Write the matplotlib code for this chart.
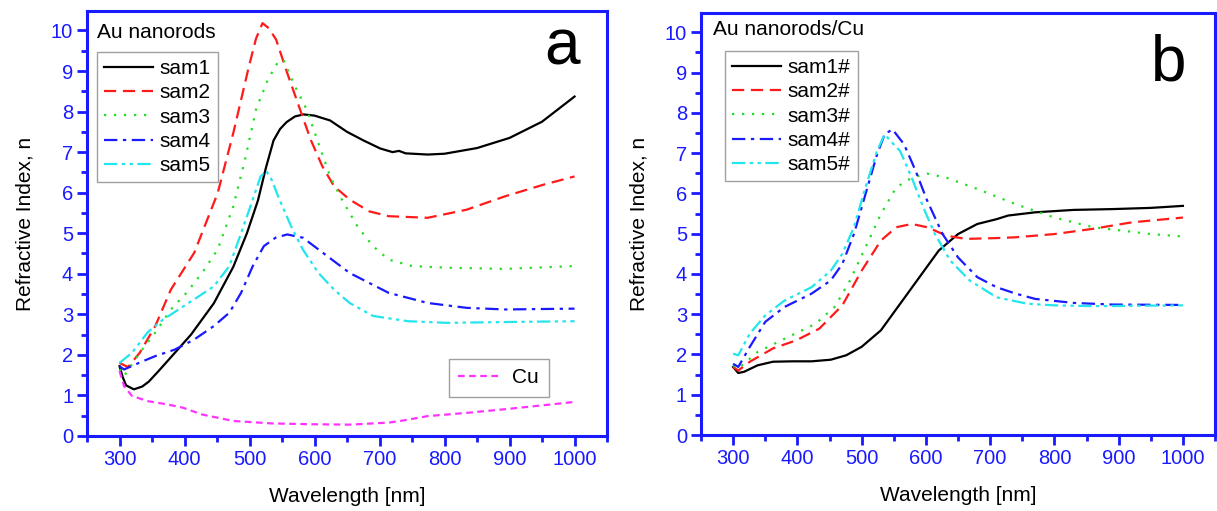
import matplotlib
matplotlib.use("Agg")
import matplotlib.pyplot as plt
from matplotlib.ticker import MultipleLocator

plt.rcParams['font.family'] = ['Liberation Sans', 'DejaVu Sans']

# ---------------- Panel a: Au nanorods ----------------
a_sam1_x = [300, 305, 310, 322, 335, 345, 360, 389, 410, 445, 475, 496, 513, 525, 537, 547, 557, 570, 583, 600, 624, 650, 675, 701, 720, 730, 740, 774, 800, 850, 900, 950, 1000]
a_sam1_y = [1.72, 1.45, 1.25, 1.15, 1.22, 1.34, 1.60, 2.12, 2.50, 3.27, 4.17, 5.00, 5.81, 6.60, 7.29, 7.57, 7.74, 7.88, 7.93, 7.90, 7.78, 7.50, 7.29, 7.09, 7.00, 7.03, 6.97, 6.94, 6.96, 7.10, 7.35, 7.75, 8.37]

a_sam2_x = [300, 313, 331, 355, 379, 415, 451, 475, 499, 510, 520, 530, 541, 558, 576, 594, 612, 630, 654, 684, 714, 774, 834, 893, 953, 1000]
a_sam2_y = [1.80, 1.70, 2.05, 2.71, 3.61, 4.52, 5.99, 7.47, 9.11, 9.80, 10.18, 10.05, 9.77, 8.95, 8.13, 7.31, 6.65, 6.16, 5.83, 5.54, 5.42, 5.38, 5.58, 5.91, 6.20, 6.40]

a_sam3_x = [300, 307, 331, 355, 379, 403, 427, 451, 475, 493, 510, 528, 543, 552, 570, 588, 606, 624, 642, 666, 690, 714, 750, 804, 893, 1000]
a_sam3_y = [1.65, 1.48, 2.05, 2.55, 3.12, 3.53, 4.02, 4.60, 5.66, 6.81, 8.05, 8.78, 9.20, 9.28, 8.62, 8.05, 7.22, 6.40, 5.83, 5.17, 4.68, 4.35, 4.19, 4.15, 4.12, 4.19]

a_sam4_x = [300, 307, 331, 355, 385, 415, 445, 469, 487, 505, 522, 540, 558, 582, 606, 654, 714, 774, 834, 893, 1000]
a_sam4_y = [1.72, 1.64, 1.81, 1.97, 2.13, 2.38, 2.71, 3.04, 3.53, 4.19, 4.68, 4.89, 4.97, 4.89, 4.60, 4.02, 3.53, 3.28, 3.16, 3.12, 3.14]

a_sam5_x = [300, 319, 343, 367, 391, 415, 445, 469, 487, 505, 517, 526, 534, 546, 564, 582, 606, 630, 654, 690, 744, 804, 893, 1000]
a_sam5_y = [1.80, 2.05, 2.55, 2.87, 3.12, 3.37, 3.69, 4.19, 5.00, 5.83, 6.40, 6.53, 6.32, 5.83, 5.17, 4.60, 4.02, 3.61, 3.28, 2.96, 2.83, 2.79, 2.81, 2.83]

a_cu_x = [300, 307, 319, 343, 373, 397, 427, 475, 534, 594, 654, 714, 732, 774, 834, 893, 953, 1000]
a_cu_y = [1.60, 1.23, 0.99, 0.86, 0.78, 0.70, 0.53, 0.37, 0.31, 0.29, 0.28, 0.33, 0.37, 0.49, 0.57, 0.66, 0.76, 0.84]

# ---------------- Panel b: Au nanorods/Cu ----------------
b_sam1_x = [300, 308, 317, 338, 362, 392, 422, 452, 476, 500, 530, 560, 590, 620, 650, 680, 710, 728, 770, 830, 890, 950, 1000]
b_sam1_y = [1.69, 1.54, 1.57, 1.73, 1.82, 1.83, 1.83, 1.87, 1.98, 2.19, 2.60, 3.26, 3.92, 4.58, 4.99, 5.24, 5.36, 5.45, 5.53, 5.59, 5.61, 5.64, 5.69]

b_sam2_x = [300, 308, 326, 362, 398, 434, 470, 500, 530, 554, 578, 602, 632, 662, 710, 740, 800, 860, 920, 1000]
b_sam2_y = [1.69, 1.60, 1.82, 2.15, 2.35, 2.64, 3.22, 4.08, 4.83, 5.16, 5.24, 5.16, 4.95, 4.87, 4.89, 4.91, 4.99, 5.12, 5.28, 5.40]

b_sam3_x = [300, 308, 338, 380, 428, 458, 482, 506, 530, 554, 578, 602, 632, 680, 740, 800, 860, 908, 950, 1000]
b_sam3_y = [1.73, 1.65, 2.06, 2.39, 2.76, 3.18, 3.84, 4.66, 5.49, 6.15, 6.39, 6.49, 6.39, 6.11, 5.73, 5.40, 5.16, 5.07, 4.99, 4.93]

b_sam4_x = [300, 308, 326, 350, 380, 422, 452, 470, 488, 506, 524, 536, 548, 566, 584, 602, 626, 650, 680, 710, 740, 770, 830, 890, 1000]
b_sam4_y = [1.77, 1.69, 2.19, 2.81, 3.18, 3.51, 3.84, 4.25, 4.99, 5.98, 6.97, 7.47, 7.59, 7.22, 6.56, 5.82, 4.99, 4.41, 3.92, 3.67, 3.51, 3.38, 3.28, 3.24, 3.23]

b_sam5_x = [300, 308, 326, 350, 380, 422, 452, 470, 488, 506, 524, 536, 545, 560, 578, 596, 614, 638, 668, 710, 758, 800, 860, 1000]
b_sam5_y = [2.02, 1.98, 2.52, 2.97, 3.34, 3.67, 4.08, 4.50, 5.16, 6.15, 7.05, 7.47, 7.30, 7.05, 6.39, 5.65, 4.99, 4.33, 3.84, 3.42, 3.26, 3.22, 3.20, 3.22]

x_ticks = [300, 400, 500, 600, 700, 800, 900, 1000]
y_ticks = [0, 1, 2, 3, 4, 5, 6, 7, 8, 9, 10]

styles = {
    'sam1': dict(color='black', linestyle='-'),
    'sam2': dict(color='#ff1a1a', linestyle=(0, (5.5, 3))),
    'sam3': dict(color='#22dd22', linestyle=(0, (1, 3.5))),
    'sam4': dict(color='#1a1aff', linestyle=(0, (6, 2.5, 1.5, 2.5))),
    'sam5': dict(color='#22e5ee', linestyle=(0, (6, 2, 1.5, 2, 1.5, 2))),
    'Cu': dict(color='#ff33ff', linestyle=(0, (3, 2))),
}

fig = plt.figure(figsize=(12.17, 5.11), dpi=100)
ax_a = fig.add_axes([0.0715, 0.1468, 0.4273, 0.8317])
ax_b = fig.add_axes([0.576, 0.1487, 0.4224, 0.8259])

blue = '#1a1aff'
lw = 1.6
fs_tick = 14.5
fs_lab = 15
fs_leg = 15

def style_axes(ax):
    ax.set_xlim(250, 1050)
    ax.set_ylim(0, 10.48)
    ax.set_xticks(x_ticks)
    ax.set_yticks(y_ticks)
    ax.xaxis.set_minor_locator(MultipleLocator(50))
    ax.yaxis.set_minor_locator(MultipleLocator(0.5))
    for s in ax.spines.values():
        s.set_color(blue)
        s.set_linewidth(2.2)
    ax.tick_params(which='major', direction='out', length=7, width=2, color=blue,
                   labelcolor=blue, labelsize=fs_tick, top=False, right=False, pad=3)
    ax.tick_params(which='minor', direction='out', length=4, width=2, color=blue,
                   top=False, right=False)
    ax.set_xlabel('Wavelength [nm]', fontsize=fs_lab, labelpad=13)
    ax.set_ylabel('Refractive Index, n', fontsize=fs_lab, labelpad=12)

leg_kw = dict(borderaxespad=0, fontsize=fs_leg, frameon=True, fancybox=False,
              edgecolor='#888888', handlelength=2.35, handletextpad=0.3,
              labelspacing=0.25, borderpad=0.35)

# Panel a
la = []
for name, xs, ys in [('sam1', a_sam1_x, a_sam1_y), ('sam2', a_sam2_x, a_sam2_y),
                     ('sam3', a_sam3_x, a_sam3_y), ('sam4', a_sam4_x, a_sam4_y),
                     ('sam5', a_sam5_x, a_sam5_y)]:
    l, = ax_a.plot(xs, ys, lw=lw, label=name, **styles[name])
    la.append(l)
lcu, = ax_a.plot(a_cu_x, a_cu_y, lw=lw, label='Cu', **styles['Cu'])
style_axes(ax_a)

leg1 = ax_a.legend(handles=la, loc='upper left', bbox_to_anchor=(0.019, 0.9035), **leg_kw)
leg1.get_frame().set_linewidth(1.0)
ax_a.add_artist(leg1)
cu_kw = dict(leg_kw)
cu_kw.update(handlelength=2.1, handletextpad=0.5, borderpad=0.45)
leg2 = ax_a.legend(handles=[lcu], loc='upper left', bbox_to_anchor=(0.696, 0.181), **cu_kw)
leg2.get_frame().set_linewidth(1.0)
ax_a.text(0.019, 0.95, 'Au nanorods', transform=ax_a.transAxes, fontsize=fs_leg,
          va='center', ha='left')
ax_a.text(0.948, 0.873, 'a', transform=ax_a.transAxes, fontsize=46,
          va='baseline', ha='right')

# Panel b
lb = []
for name, xs, ys in [('sam1', b_sam1_x, b_sam1_y), ('sam2', b_sam2_x, b_sam2_y),
                     ('sam3', b_sam3_x, b_sam3_y), ('sam4', b_sam4_x, b_sam4_y),
                     ('sam5', b_sam5_x, b_sam5_y)]:
    l, = ax_b.plot(xs, ys, lw=lw, label=name + '#', **styles[name])
    lb.append(l)
style_axes(ax_b)
leg3 = ax_b.legend(handles=lb, loc='upper left', bbox_to_anchor=(0.047, 0.91), **leg_kw)
leg3.get_frame().set_linewidth(1.0)
ax_b.text(0.023, 0.96, 'Au nanorods/Cu', transform=ax_b.transAxes, fontsize=fs_leg,
          va='center', ha='left')
ax_b.text(0.945, 0.839, 'b', transform=ax_b.transAxes, fontsize=46,
          va='baseline', ha='right')

fig.savefig('out.png', dpi=100)
